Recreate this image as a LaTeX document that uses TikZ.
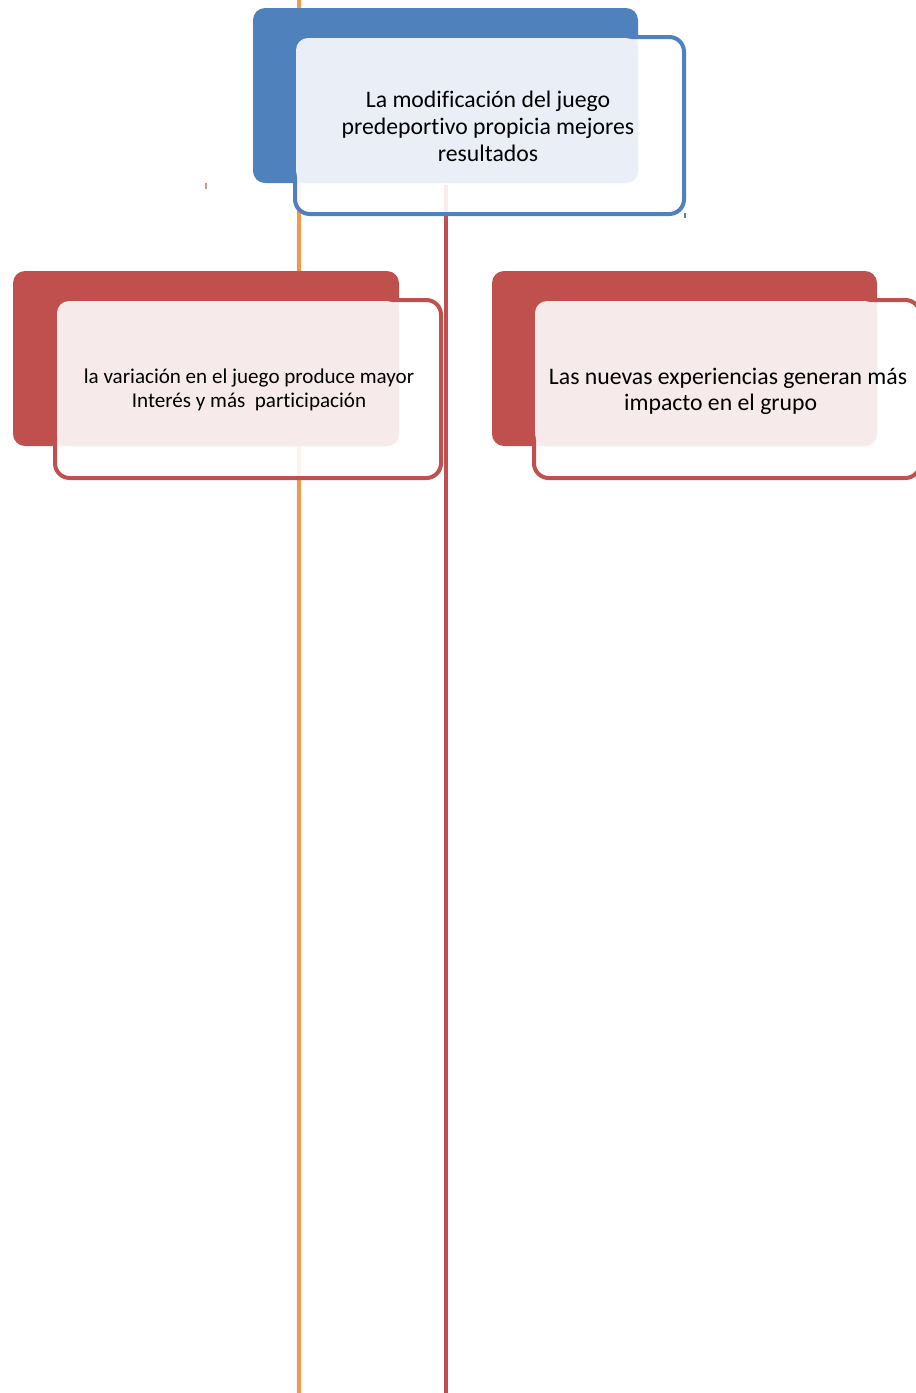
\documentclass[tikz,border=0pt]{standalone}
\usepackage{fontspec}
\setmainfont[Ligatures={NoCommon}]{Carlito}

\definecolor{accblue}{HTML}{4F81BD}
\definecolor{accred}{HTML}{C0504D}
\definecolor{accorange}{HTML}{F79646}
\definecolor{paleblue}{HTML}{EAEFF7}
\definecolor{palered}{HTML}{F6EAEA}

\begin{document}
\begin{tikzpicture}[x=0.75pt, y=-0.75pt,
  backbox/.style={rounded corners=9pt, inner sep=0pt, minimum width=289pt, minimum height=131.25pt},
  framebox/.style={rounded corners=11pt, inner sep=0pt, line width=3pt, fill=white, fill opacity=0.9,
    minimum width=289.5pt, minimum height=133.5pt},
  palebox/.style={rounded corners=9pt, inner sep=0pt, minimum width=256.5pt, minimum height=108.75pt},
  txt/.style={align=center, inner sep=0pt, text=black}]
\useasboundingbox (0,0) rectangle (915,1393);

% vertical lines behind the boxes
\coordinate (otop) at (299,0);
\coordinate (obot) at (299,1393);
\coordinate (rtop) at (446,185);
\coordinate (rbot) at (446,1393);
\draw[accorange, line width=3pt] (otop) -- (obot);
\draw[accred, line width=3pt] (rtop) -- (rbot);

% top box
\node[backbox, fill=accblue, minimum width=288.75pt] (topback) at (445.5,95.5) {};
\node[framebox, draw=accblue, minimum width=291.75pt, minimum height=132.75pt] (topframe) at (489.5,125.5) {};
\node[palebox, fill=paleblue] (toppale) at (467,110.5) {};
\node[txt, font=\fontsize{17.8}{20.3}\selectfont] (toptext) at (488,126)
  {La modificación del juego\\predeportivo propicia mejores\\resultados};

% left box
\node[backbox, fill=accred, minimum width=289.5pt] (leftback) at (206,358.5) {};
\node[framebox, draw=accred] (leftframe) at (248,389) {};
\node[palebox, fill=palered] (leftpale) at (228,373.5) {};
\node[txt, font=\fontsize{15.8}{17.5}\selectfont] (lefttext) at (249,390)
  {la variación en el juego produce mayor\\Interés y más\ \ participación};

% right box
\node[backbox, fill=accred, minimum width=288.75pt] (rightback) at (684.5,358.5) {};
\node[framebox, draw=accred] (rightframe) at (727,389) {};
\node[palebox, fill=palered] (rightpale) at (706,373.5) {};
\node[txt, font=\fontsize{17.8}{19.5}\selectfont] (righttext) at (728,391.5)
  {Las nuevas experiencias generan más\\impacto en el grupo\hspace*{11pt}};

% small marks
\draw[accred!60, line width=1pt] (206,183) -- (206,189);
\draw[accblue, line width=0.8pt] (685,213) -- (685,218);
\end{tikzpicture}
\end{document}
